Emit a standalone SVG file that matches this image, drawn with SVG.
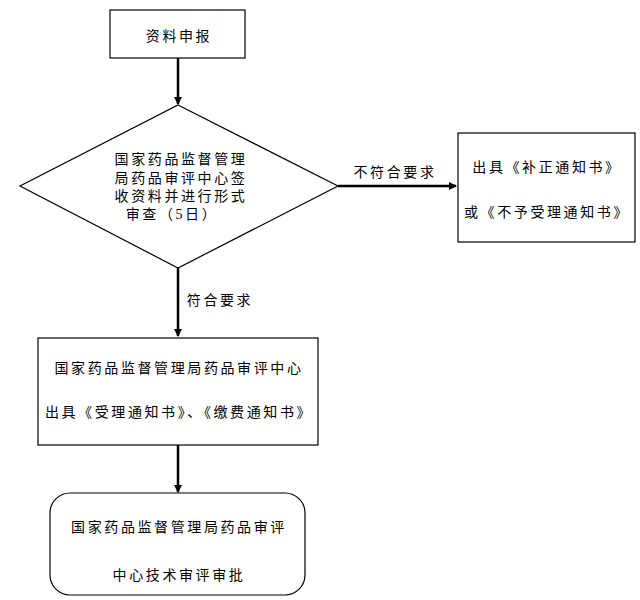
<svg xmlns="http://www.w3.org/2000/svg" width="640" height="600" viewBox="0 0 640 600">
<defs>
<marker id="ah" markerWidth="8" markerHeight="8" refX="7" refY="4" orient="auto" markerUnits="userSpaceOnUse"><path d="M0,0 L8,4 L0,8 Z" fill="#000"/></marker>
<style>
.n{fill:#fff;stroke:#000;stroke-width:1.2}
.t{font-family:"Liberation Serif","Noto Sans CJK SC",serif;font-size:14px;fill:#000;text-anchor:middle;letter-spacing:2.6px}
.c{stroke:#000;stroke-width:2.5;fill:none;marker-end:url(#ah)}
</style>
</defs>
<rect width="640" height="600" fill="#fff"/>
<g id="connectors">
<line class="c" x1="178" y1="58" x2="178" y2="104"/>
<line class="c" x1="338" y1="186" x2="456" y2="186"/>
<line class="c" x1="178" y1="268" x2="178" y2="336"/>
<line class="c" x1="178" y1="445" x2="178" y2="492"/>
<text class="t" x="395" y="177">不符合要求</text>
<text class="t" x="220" y="305">符合要求</text>
</g>
<g id="n1"><rect class="n" x="110" y="10" width="135" height="48"/><text class="t" x="179" y="41">资料申报</text></g>
<g id="n2"><polygon class="n" points="178,105 338,186 178,268 20,186"/>
<text class="t" x="181" y="164">国家药品监督管理</text>
<text class="t" x="181" y="183">局药品审评中心签</text>
<text class="t" x="181" y="201">收资料并进行形式</text>
<text class="t" x="172" y="219">审查（5日）</text></g>
<g id="n3"><rect class="n" x="458" y="133" width="177" height="109"/>
<text class="t" x="547" y="172">出具《补正通知书》</text>
<text class="t" x="547" y="217">或《不予受理通知书》</text></g>
<g id="n4"><rect class="n" x="38" y="338" width="280" height="107"/>
<text class="t" x="179" y="373">国家药品监督管理局药品审评中心</text>
<text class="t" x="179" y="417">出具《受理通知书》、《缴费通知书》</text></g>
<g id="n5"><rect class="n" x="50" y="493" width="255" height="102" rx="20"/>
<text class="t" x="179" y="532">国家药品监督管理局药品审评</text>
<text class="t" x="179" y="580">中心技术审评审批</text></g>
</svg>
